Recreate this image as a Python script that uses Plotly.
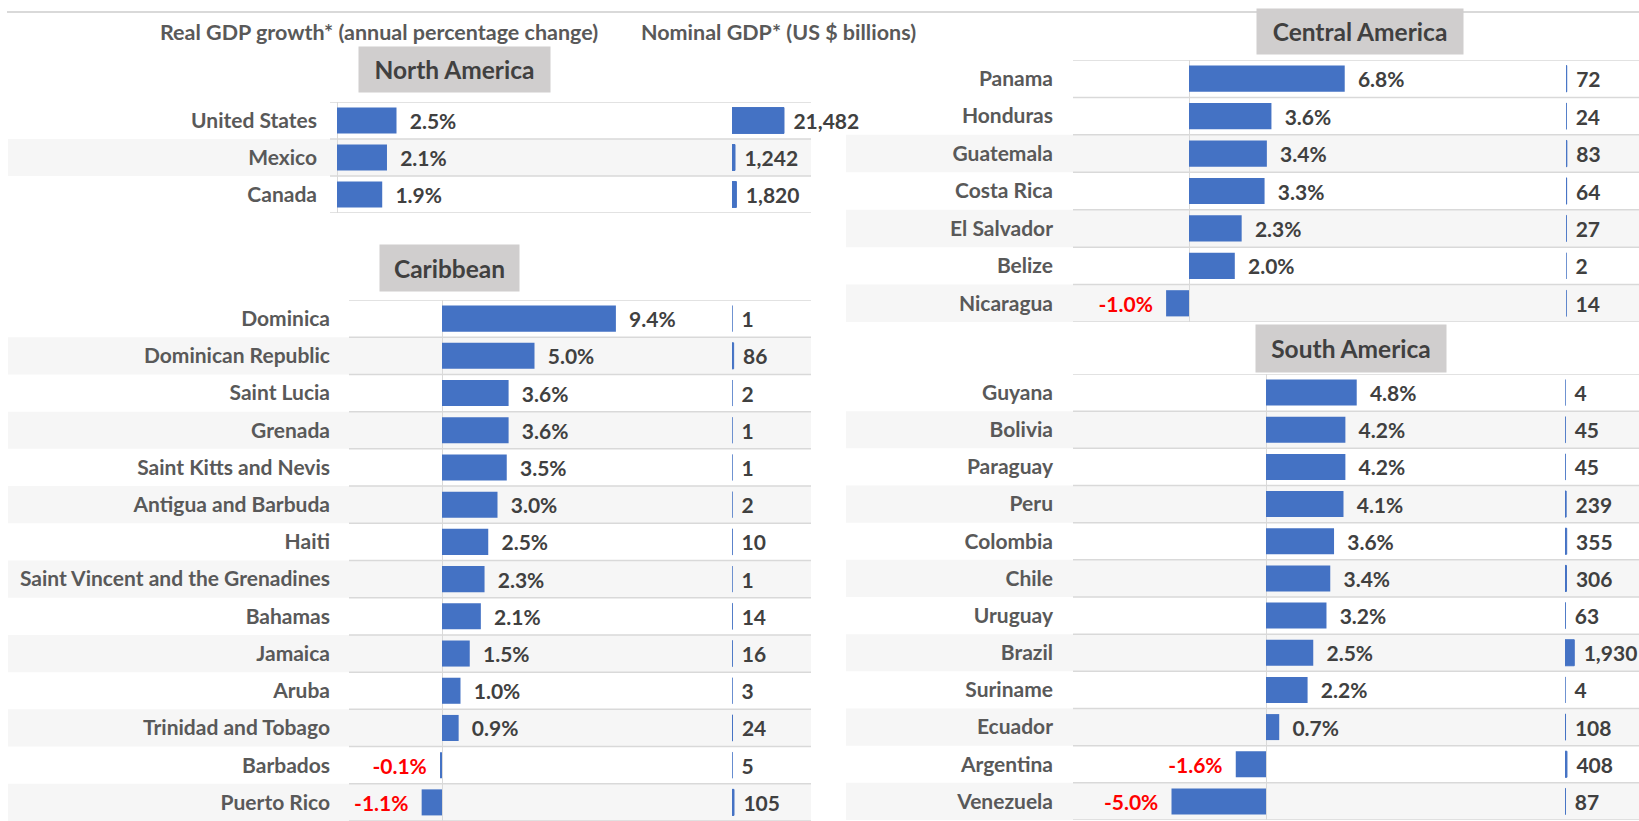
import plotly.graph_objects as go

W, H = 1639, 821

# ---------------- data ----------------
na_countries = ["United States", "Mexico", "Canada"]
na_growth = [2.5, 2.1, 1.9]
na_gdp = [21482, 1242, 1820]

car_countries = ["Dominica", "Dominican Republic", "Saint Lucia", "Grenada",
                 "Saint Kitts and Nevis", "Antigua and Barbuda", "Haiti",
                 "Saint Vincent and the Grenadines", "Bahamas", "Jamaica",
                 "Aruba", "Trinidad and Tobago", "Barbados", "Puerto Rico"]
car_growth = [9.4, 5.0, 3.6, 3.6, 3.5, 3.0, 2.5, 2.3, 2.1, 1.5, 1.0, 0.9, -0.1, -1.1]
car_gdp = [1, 86, 2, 1, 1, 2, 10, 1, 14, 16, 3, 24, 5, 105]

ca_countries = ["Panama", "Honduras", "Guatemala", "Costa Rica",
                "El Salvador", "Belize", "Nicaragua"]
ca_growth = [6.8, 3.6, 3.4, 3.3, 2.3, 2.0, -1.0]
ca_gdp = [72, 24, 83, 64, 27, 2, 14]

sa_countries = ["Guyana", "Bolivia", "Paraguay", "Peru", "Colombia", "Chile",
                "Uruguay", "Brazil", "Suriname", "Ecuador", "Argentina", "Venezuela"]
sa_growth = [4.8, 4.2, 4.2, 4.1, 3.6, 3.4, 3.2, 2.5, 2.2, 0.7, -1.6, -5.0]
sa_gdp = [4, 45, 45, 239, 355, 306, 63, 1930, 4, 108, 408, 87]

header_growth = "Real GDP growth* (annual percentage change)"
header_gdp = "Nominal GDP* (US $ billions)"

# ---------------- styling / layout (pixels) ----------------
FONT = "Lato, 'Open Sans', sans-serif"
BLUE = "#4472C4"
LABEL_C = "#595959"
VALUE_C = "#404040"
NEG_C = "#FF0000"
GRID_C = "#D9D9D9"
BAND_C = "#F6F6F6"
BOX_C = "#D0CECE"
LBL_SIZE = 21
VAL_SIZE = 21
BOX_SIZE = 24.5
HDR_SIZE = 21.5

panels = [
    dict(title="North America", countries=na_countries, growth=na_growth, gdp=na_gdp,
         top=102, bottom=213, gx0=330, gx1=811, zero=337, pct_px=23.8,
         nx0=732, nom_px=0.00242, bx0=8, bx1=811, shade=[1],
         box=(359, 550, 47, 92), standoff=12),
    dict(title="Caribbean", countries=car_countries, growth=car_growth, gdp=car_gdp,
         top=300, bottom=821, gx0=349, gx1=811, zero=442, pct_px=18.5,
         nx0=732, nom_px=0.019, bx0=8, bx1=811, shade=[1, 3, 5, 7, 9, 11, 13],
         box=(380, 519, 245, 291), standoff=18),
    dict(title="Central America", countries=ca_countries, growth=ca_growth, gdp=ca_gdp,
         top=60, bottom=322, gx0=1073, gx1=1639, zero=1189, pct_px=22.9,
         nx0=1566, nom_px=0.01, bx0=846, bx1=1639, shade=[2, 4, 6],
         box=(1257, 1463, 9, 54), standoff=19),
    dict(title="South America", countries=sa_countries, growth=sa_growth, gdp=sa_gdp,
         top=374, bottom=820, gx0=1073, gx1=1639, zero=1266, pct_px=18.9,
         nx0=1565, nom_px=0.0048, bx0=846, bx1=1639, shade=[1, 3, 5, 7, 9, 11],
         box=(1256, 1446, 325, 372), standoff=19),
]

NB = "\u00a0"
HAIR = "\u200a"
fig = go.Figure()
layout = {}
shapes = []
annotations = []

for i, p in enumerate(panels):
    gi = 2 * i + 1
    ni = 2 * i + 2
    yi = i + 1
    gx = "x" if gi == 1 else f"x{gi}"
    nx = f"x{ni}"
    yy = "y" if yi == 1 else f"y{yi}"
    n = len(p["countries"])

    gtext = [(NB * 2 + f"{v:.1f}%") if v >= 0 else (f"{v:.1f}%" + NB * 2) for v in p["growth"]]
    gcol = [VALUE_C if v >= 0 else NEG_C for v in p["growth"]]
    fig.add_trace(go.Bar(
        x=p["growth"], y=p["countries"], orientation="h", xaxis=gx, yaxis=yy,
        marker=dict(color=BLUE, line=dict(width=0)), width=0.7,
        text=gtext, textposition="outside", cliponaxis=False, constraintext="none",
        textfont=dict(family=FONT, size=VAL_SIZE, color=gcol, weight=700),
        showlegend=False, hoverinfo="skip"))
    ntext = [NB + HAIR + f"{v:,}" for v in p["gdp"]]
    fig.add_trace(go.Bar(
        x=p["gdp"], y=p["countries"], orientation="h", xaxis=nx, yaxis=yy,
        marker=dict(color=BLUE, line=dict(width=1, color=BLUE)), width=0.7,
        text=ntext, textposition="outside", cliponaxis=False, constraintext="none",
        textfont=dict(family=FONT, size=VAL_SIZE, color=VALUE_C, weight=700),
        showlegend=False, hoverinfo="skip"))

    gkey = "xaxis" if gi == 1 else f"xaxis{gi}"
    layout[gkey] = dict(
        domain=[p["gx0"] / W, p["gx1"] / W],
        range=[(p["gx0"] - p["zero"]) / p["pct_px"], (p["gx1"] - p["zero"]) / p["pct_px"]],
        anchor=yy, showgrid=False, showline=False, showticklabels=False, ticks="",
        zeroline=True, zerolinecolor=GRID_C, zerolinewidth=1, fixedrange=True)
    layout[f"xaxis{ni}"] = dict(
        domain=[p["nx0"] / W, p["gx1"] / W],
        range=[0, (p["gx1"] - p["nx0"]) / p["nom_px"]],
        anchor=yy, visible=False, fixedrange=True)
    ykey = "yaxis" if yi == 1 else f"yaxis{yi}"
    layout[ykey] = dict(
        domain=[1 - p["bottom"] / H, 1 - p["top"] / H],
        type="category", categoryorder="array", categoryarray=p["countries"],
        range=[n - 0.5, -0.5], anchor=gx, showgrid=False, zeroline=False,
        showline=False, ticks="", ticklabelstandoff=p["standoff"],
        tickfont=dict(family=FONT, size=LBL_SIZE, color=LABEL_C, weight=700),
        fixedrange=True)

    for k in p["shade"]:
        shapes.append(dict(type="rect", xref="paper", yref=yy,
                           x0=p["bx0"] / W, x1=p["bx1"] / W, y0=k - 0.5, y1=k + 0.5,
                           fillcolor=BAND_C, line=dict(width=0), layer="below"))
    for k in range(n + 1):
        shapes.append(dict(type="line", xref=f"{gx} domain", yref=yy,
                           x0=0, x1=1, y0=k - 0.5, y1=k - 0.5,
                           line=dict(color=GRID_C, width=1.5), layer="below"))

    bx0, bx1, by0, by1 = p["box"]
    annotations.append(dict(
        text=p["title"], xref="paper", yref="paper",
        x=(bx0 + bx1) / 2 / W, y=1 - (by0 + by1) / 2 / H,
        xanchor="center", yanchor="middle", showarrow=False,
        width=bx1 - bx0, height=by1 - by0, bgcolor=BOX_C, borderpad=0,
        font=dict(family=FONT, size=BOX_SIZE, color=VALUE_C, weight=700)))

shapes.insert(0, dict(type="line", xref="paper", yref="paper", x0=7 / W, x1=1,
                      y0=1 - 12 / H, y1=1 - 12 / H,
                      line=dict(color=GRID_C, width=2), layer="below"))

annotations.append(dict(text=header_growth, xref="paper", yref="paper",
                        x=379 / W, y=1 - 32 / H, xanchor="center", yanchor="middle",
                        showarrow=False,
                        font=dict(family=FONT, size=HDR_SIZE, color=LABEL_C, weight=700)))
annotations.append(dict(text=header_gdp, xref="paper", yref="paper",
                        x=778 / W, y=1 - 32 / H, xanchor="center", yanchor="middle",
                        showarrow=False,
                        font=dict(family=FONT, size=HDR_SIZE, color=LABEL_C, weight=700)))

fig.update_layout(
    width=W, height=H, margin=dict(l=0, r=0, t=0, b=0, pad=0),
    paper_bgcolor="white", plot_bgcolor="rgba(0,0,0,0)",
    barmode="overlay", showlegend=False,
    shapes=shapes, annotations=annotations, **layout)

fig.write_html("out.html", config={"displayModeBar": False},
               post_script="document.body.style.margin='0';")
